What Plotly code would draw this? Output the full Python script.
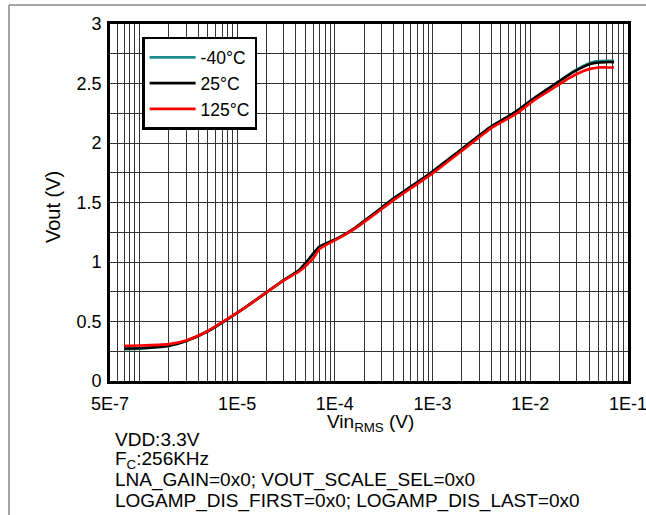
import math
import plotly.graph_objects as go

# Vin RMS (V) sample points
vin = [7e-7, 1e-6, 2e-6, 3e-6, 5e-6, 7.5e-6, 1.2e-5, 2e-5, 3e-5, 4.3e-5,
       5e-5, 6e-5, 7e-5, 1.1e-4, 1.6e-4, 2.5e-4, 4e-4, 6e-4, 1e-3, 2e-3,
       4e-3, 7e-3, 1.1e-2, 1.5e-2, 2e-2, 2.5e-2, 3e-2, 3.5e-2, 4.2e-2,
       5e-2, 6e-2, 7.2e-2]

vout_m40 = [0.268, 0.272, 0.294, 0.335, 0.417, 0.505, 0.617, 0.745, 0.848, 0.93,
            0.99, 1.07, 1.13, 1.204, 1.285, 1.405, 1.535, 1.633, 1.76, 1.95,
            2.14, 2.26, 2.378, 2.453, 2.522, 2.578, 2.618, 2.648, 2.676,
            2.688, 2.69, 2.69]
vout_25 = [0.272, 0.275, 0.296, 0.336, 0.418, 0.506, 0.617, 0.745, 0.848, 0.93,
           0.99, 1.07, 1.13, 1.204, 1.285, 1.405, 1.535, 1.633, 1.76, 1.95,
           2.14, 2.26, 2.378, 2.453, 2.522, 2.575, 2.612, 2.64, 2.665,
           2.677, 2.68, 2.68]
vout_125 = [0.296, 0.298, 0.31, 0.34, 0.42, 0.51, 0.615, 0.745, 0.845, 0.92,
            0.965, 1.03, 1.11, 1.2, 1.28, 1.395, 1.52, 1.62, 1.745, 1.935,
            2.125, 2.24, 2.36, 2.43, 2.495, 2.545, 2.58, 2.605, 2.625,
            2.635, 2.635, 2.635]

series_names = ["-40°C", "25°C", "125°C"]
series_colors = ["#1f8a8a", "#000000", "#ff0000"]

x_tick_vals = [5e-7, 1e-5, 1e-4, 1e-3, 1e-2, 1e-1]
x_tick_text = ["5E-7", "1E-5", "1E-4", "1E-3", "1E-2", "1E-1"]
y_tick_vals = [0, 0.5, 1, 1.5, 2, 2.5, 3]
y_tick_text = ["0", "0.5", "1", "1.5", "2", "2.5", "3"]

notes = ["VDD:3.3V",
         "F<sub>C</sub>:256KHz",
         "LNA_GAIN=0x0; VOUT_SCALE_SEL=0x0",
         "LOGAMP_DIS_FIRST=0x0; LOGAMP_DIS_LAST=0x0"]

FONT = "Liberation Sans, Arial, sans-serif"

# log grid: every 1..9 of each decade inside the range
x_grid = [d * 10 ** e for e in range(-7, -1) for d in range(1, 10)
          if 5e-7 < d * 10 ** e < 1e-1]

fig = go.Figure()
for vals, name, color in zip([vout_m40, vout_25, vout_125], series_names, series_colors):
    fig.add_trace(go.Scatter(x=vin, y=vals, name=name, mode="lines",
                             line=dict(color=color, width=2.6, shape="spline", smoothing=0.6)))

fig.update_xaxes(
    type="log", range=[math.log10(5e-7), -1], automargin=False,
    tickvals=x_tick_vals, ticktext=x_tick_text,
    showgrid=True, gridcolor="#333333", gridwidth=1,
    minor=dict(tickvals=x_grid, showgrid=True, gridcolor="#333333", gridwidth=1),
    showline=True, linecolor="black", linewidth=2.6, mirror=True,
    ticks="", ticklabelstandoff=5, ticklabeloverflow="allow", zeroline=False,
    tickfont=dict(size=18, color="black"),
)
fig.update_yaxes(
    range=[0, 3], automargin=False,
    tickvals=y_tick_vals, ticktext=y_tick_text,
    showgrid=True, gridcolor="#333333", gridwidth=1,
    minor=dict(dtick=0.25, showgrid=True, gridcolor="#333333", gridwidth=1),
    showline=True, linecolor="black", linewidth=2.6, mirror=True,
    ticks="", ticklabelstandoff=2, zeroline=False,
    tickfont=dict(size=18, color="black"),
)

for i, line in enumerate(notes):
    fig.add_annotation(text=line, xref="paper", yref="paper", x=0, y=0,
                       xanchor="left", yanchor="middle", showarrow=False,
                       xshift=3, yshift=-58 - i * 20.7,
                       font=dict(size=19, color="black"))

# axis titles
fig.add_annotation(text="Vin<sub>RMS</sub> (V)", xref="paper", yref="paper", x=0.5, y=0,
                   xanchor="center", yanchor="middle", showarrow=False,
                   xshift=1, yshift=-42, font=dict(size=19, color="black"))
fig.add_annotation(text="Vout (V)", xref="paper", yref="paper", x=0, y=0.5,
                   xanchor="center", yanchor="middle", textangle=-90, showarrow=False,
                   xshift=-57, yshift=-4.5, font=dict(size=20, color="black"))

# page frame: top and left rules
fig.add_shape(type="line", xref="paper", yref="paper", x0=-0.195, x1=1.1, y0=1.0532, y1=1.0532,
              line=dict(color="#888888", width=1.5))
fig.add_shape(type="line", xref="paper", yref="paper", x0=-0.195, x1=-0.195, y0=1.0532, y1=-0.45,
              line=dict(color="#888888", width=1.5))

fig.update_layout(
    width=646, height=515,
    margin=dict(l=110, r=18, t=24, b=134),
    plot_bgcolor="white", paper_bgcolor="white",
    font=dict(family=FONT, color="black"),
    showlegend=True,
    legend=dict(x=0.062, y=0.9636, xanchor="left", yanchor="top",
                bgcolor="white", bordercolor="black", borderwidth=2.5,
                font=dict(size=17.5), itemwidth=46),
)

fig.write_html("out.html", config={"displayModeBar": False},
               post_script="document.body.style.margin='0';"
                           "document.body.style.overflow='hidden';"
                           "document.documentElement.style.overflow='hidden';")
